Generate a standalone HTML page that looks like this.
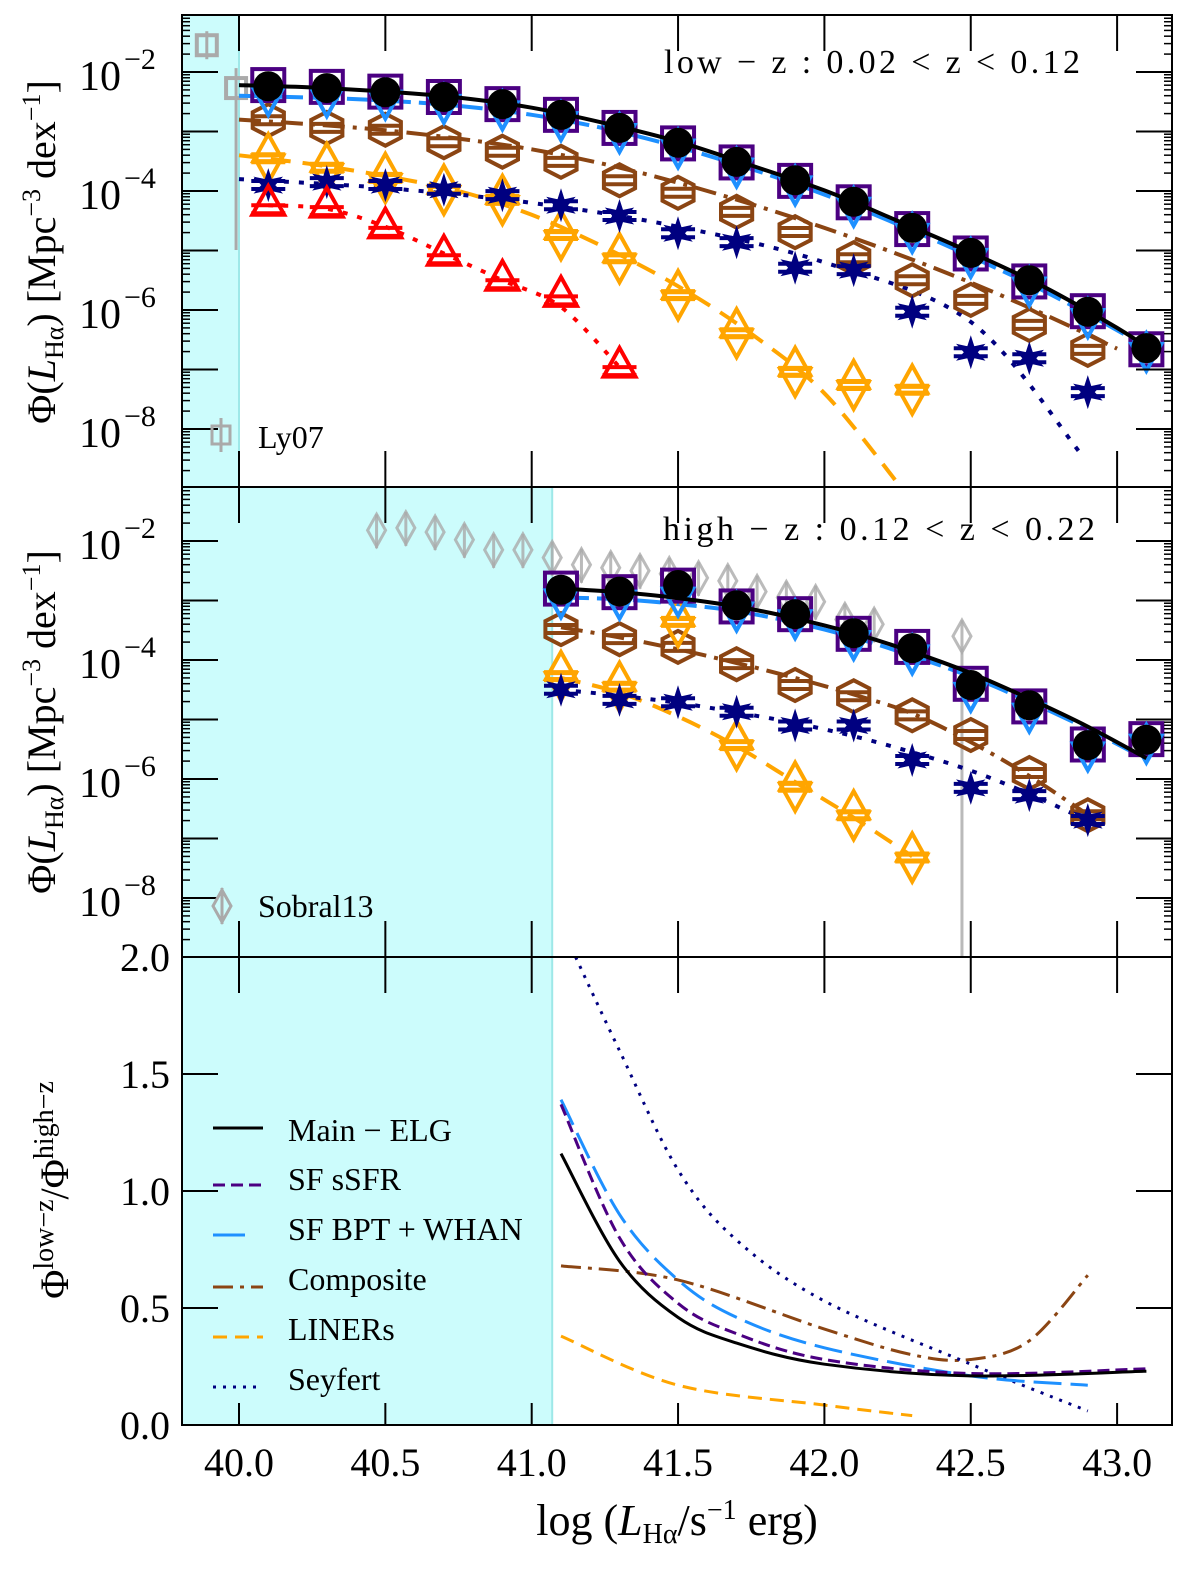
<!DOCTYPE html>
<html><head><meta charset="utf-8"><style>
html,body{margin:0;padding:0;background:#fff}
svg{display:block}
text{font-family:"Liberation Serif",serif;fill:#000}
</style></head><body>
<svg id="c" width="1200" height="1579" viewBox="0 0 1200 1579" xmlns="http://www.w3.org/2000/svg"></svg>
<script>
// ---------- data ----------
const xs1 = [40.1,40.3,40.5,40.7,40.9,41.1,41.3,41.5,41.7,41.9,42.1,42.3,42.5,42.7,42.9,43.1];
const main1 = [-2.24,-2.27,-2.34,-2.42,-2.54,-2.72,-2.94,-3.19,-3.51,-3.82,-4.18,-4.62,-5.04,-5.50,-6.03,-6.64];
const ssfr1 = [-2.22,-2.25,-2.33,-2.42,-2.54,-2.72,-2.94,-3.2,-3.52,-3.83,-4.19,-4.64,-5.05,-5.52,-6.02,-6.66];
const bpt1 = [-2.42,-2.44,-2.48,-2.55,-2.66,-2.84,-3.04,-3.3,-3.62,-3.92,-4.28,-4.72,-5.14,-5.62,-6.15,-6.72];
const comp1 = [-2.81,-2.94,-2.97,-3.18,-3.34,-3.51,-3.82,-4.03,-4.35,-4.69,-5.13,-5.50,-5.83,-6.25,-6.67];
const liner1 = [-3.45,-3.61,-3.78,-3.98,-4.15,-4.74,-5.13,-5.75,-6.39,-7.04,-7.26,-7.34];
const sey1 = [-3.90,-3.85,-3.90,-3.98,-4.07,-4.24,-4.42,-4.71,-4.86,-5.29,-5.33,-6.03,-6.71,-6.81,-7.38];
const red1 = [-4.24,-4.27,-4.62,-5.08,-5.50,-5.77,-6.96];
const ly07x = [39.89,39.99];
const ly07y = [-1.55,-2.27];
// fit curves panel 1
const fitX1 = [40.0,40.25,40.5,40.75,41.0,41.25,41.5,41.75,42.0,42.25,42.5,42.75,43.0,43.1];
const fitMain1 = [-2.22,-2.26,-2.33,-2.43,-2.6,-2.86,-3.17,-3.57,-3.99,-4.5,-5.03,-5.61,-6.3,-6.62];
const fitBpt1 = [-2.4,-2.43,-2.48,-2.57,-2.72,-2.95,-3.26,-3.63,-4.06,-4.56,-5.1,-5.68,-6.34,-6.65];
const fitComp1 = [-2.8,-2.88,-2.98,-3.12,-3.3,-3.55,-3.86,-4.22,-4.62,-5.06,-5.54,-6.07,-6.65];
const fitLinerX1 = [40.0,40.25,40.5,40.75,41.0,41.25,41.5,41.75,42.0,42.26];
const fitLiner1 = [-3.4,-3.55,-3.75,-4.0,-4.4,-4.95,-5.6,-6.4,-7.4,-8.97];
const fitSeyX1 = [40.0,40.5,41.0,41.5,42.0,42.5,42.88];
const fitSey1 = [-3.8,-3.95,-4.2,-4.6,-5.2,-6.2,-8.44];
const redX1 = [40.1,40.3,40.5,40.7,40.9,41.1,41.3];
const fitRed1 = [-4.24,-4.3,-4.6,-5.05,-5.5,-5.95,-6.96];
// panel 2
const xs2 = [41.1,41.3,41.5,41.7,41.9,42.1,42.3,42.5,42.7,42.9,43.1];
const main2 = [-2.82,-2.85,-2.74,-3.08,-3.23,-3.55,-3.80,-4.42,-4.76,-5.43,-5.34];
const ssfr2 = [-2.8,-2.86,-2.75,-3.1,-3.23,-3.56,-3.78,-4.4,-4.78,-5.42,-5.33];
const bpt2 = [-2.98,-3.0,-2.95,-3.2,-3.33,-3.68,-3.92,-4.55,-4.9,-5.55,-5.42];
const comp2 = [-3.48,-3.65,-3.78,-4.07,-4.42,-4.61,-4.93,-5.26,-5.90,-6.61];
const liner2 = [-4.27,-4.45,-3.36,-5.43,-6.13,-6.61,-7.32];
const sey2 = [-4.50,-4.67,-4.71,-4.87,-5.10,-5.10,-5.68,-6.15,-6.27,-6.69];
const sobX = [40.47,40.57,40.67,40.77,40.87,40.97,41.07,41.17,41.27,41.37,41.47,41.57,41.67,41.77,41.87,41.97,42.07,42.17,42.47];
const sobY = [-1.82,-1.78,-1.85,-1.98,-2.15,-2.15,-2.28,-2.4,-2.45,-2.5,-2.55,-2.62,-2.67,-2.85,-2.95,-3.02,-3.32,-3.4,-3.6];
const fitX2 = [41.1,41.3,41.5,41.7,41.9,42.1,42.3,42.5,42.7,42.9,43.1];
const fitMain2 = [-2.8,-2.86,-2.96,-3.1,-3.3,-3.55,-3.86,-4.22,-4.65,-5.12,-5.65];
const fitBpt2 = [-2.95,-2.98,-3.06,-3.18,-3.37,-3.62,-3.93,-4.28,-4.7,-5.16,-5.67];
const fitComp2 = [-3.45,-3.62,-3.82,-4.05,-4.3,-4.58,-4.9,-5.38,-5.95,-6.6];
const fitLinerX2 = [41.1,41.3,41.5,41.7,41.9,42.1,42.3];
const fitLiner2 = [-4.3,-4.55,-4.95,-5.45,-6.05,-6.65,-7.3];
const fitSeyX2 = [41.1,41.3,41.5,41.7,41.9,42.1,42.3,42.5,42.7,42.9];
const fitSey2 = [-4.5,-4.6,-4.72,-4.88,-5.06,-5.28,-5.55,-5.86,-6.25,-6.7];
// panel 3 ratios
const rX = [41.1,41.3,41.5,41.7,42.0,42.5,43.1];
const rMain = [1.16,0.70,0.46,0.35,0.26,0.21,0.23];
const rSsfr = [1.37,0.80,0.52,0.39,0.28,0.22,0.24];
const rBptX = [41.1,41.3,41.5,41.7,42.0,42.5,42.9];
const rBpt = [1.39,0.90,0.62,0.46,0.33,0.21,0.17];
const rCompX = [41.1,41.5,42.0,42.3,42.5,42.7,42.9];
const rComp = [0.68,0.62,0.41,0.30,0.28,0.36,0.64];
const rLinerX = [41.1,41.5,42.0,42.3];
const rLiner = [0.38,0.17,0.085,0.04];
const rSeyX = [41.15,41.3,41.5,41.7,42.0,42.5,42.9];
const rSey = [2.0,1.60,1.09,0.79,0.53,0.26,0.06];
const xTicks = ["40.0","40.5","41.0","41.5","42.0","42.5","43.0"];
const xTickVals = [40.0,40.5,41.0,41.5,42.0,42.5,43.0];
const logTicks = [-2,-4,-6,-8];
const rTicks = [0.0,0.5,1.0,1.5,2.0];

// ---------- axes ----------
const L=182,R=1172;
const px = v => 239 + (v-40)*292.7;
const py1 = v => 72 + (-2-v)*59.5;
const py2 = v => 541 + (-2-v)*59.5;
const py3 = v => 1425 - v*234;
const C = { black:'#000', purple:'#4b0082', blue:'#1e90ff', brown:'#8b4513', orange:'#ffa500', navy:'#000080', red:'#ff0000', grey:'#aaaaaa' };
const svg=document.getElementById('c');
const NS='http://www.w3.org/2000/svg';
function el(tag,attrs,parent){const e=document.createElementNS(NS,tag);for(const k in attrs)e.setAttribute(k,attrs[k]);(parent||svg).appendChild(e);return e;}
function grp(name,clip){const g=el('g',clip?{'clip-path':'url(#'+clip+')'}:{});return g;}
const defs=el('defs',{});
[['p1',15,472],['p2',487,470],['p3',957,468]].forEach(([id,y,h])=>{const cp=el('clipPath',{id:id},defs);el('rect',{x:L,y:y,width:R-L,height:h},cp);});

// shading
const shade=grp('excluded-region');
el('rect',{x:L,y:15,width:px(40.0)-L,height:472,fill:'#ccfcfc'},shade);
el('rect',{x:L,y:487,width:px(41.07)-L,height:938,fill:'#ccfcfc'},shade);
el('line',{x1:px(40.0),y1:15,x2:px(40.0),y2:487,stroke:'#9ee8e8','stroke-width':2},shade);
el('line',{x1:px(41.07),y1:487,x2:px(41.07),y2:1425,stroke:'#9ee8e8','stroke-width':2},shade);

function line(g,xa,ya,fy,col,w,dash){
  const P=xa.map((x,i)=>[px(x),fy(ya[i])]);
  let d='M'+P[0][0].toFixed(1)+','+P[0][1].toFixed(1);
  for(let i=0;i<P.length-1;i++){
    const p0=P[Math.max(0,i-1)],p1=P[i],p2=P[i+1],p3=P[Math.min(P.length-1,i+2)];
    const c1=[p1[0]+(p2[0]-p0[0])/6,p1[1]+(p2[1]-p0[1])/6];
    const c2=[p2[0]-(p3[0]-p1[0])/6,p2[1]-(p3[1]-p1[1])/6];
    d+=' C'+c1.map(v=>v.toFixed(1)).join(',')+' '+c2.map(v=>v.toFixed(1)).join(',')+' '+p2.map(v=>v.toFixed(1)).join(',');
  }
  const a={d:d,fill:'none',stroke:col,'stroke-width':w,'stroke-linejoin':'round'};
  if(dash)a['stroke-dasharray']=dash;
  return el('path',a,g);
}
function tri(g,x,y,s,up,col){const h=s*0.9;const p=up?[[x,y-h*0.67],[x-s/2,y+h*0.33],[x+s/2,y+h*0.33]]:[[x,y+h*0.67],[x-s/2,y-h*0.33],[x+s/2,y-h*0.33]];el('polygon',{points:p.map(q=>q.join(',')).join(' '),fill:'none',stroke:col,'stroke-width':4},g);}
function caps(g,x,y,col){el('line',{x1:x-17,y1:y-4,x2:x+17,y2:y-4,stroke:col,'stroke-width':4},g);el('line',{x1:x-17,y1:y+4,x2:x+17,y2:y+4,stroke:col,'stroke-width':4},g);}
function hex(g,x,y,col){const p=[];for(let i=0;i<6;i++){const a=Math.PI/2+i*Math.PI/3;p.push((x+18*Math.cos(a)).toFixed(1)+','+(y-16*Math.sin(a)).toFixed(1));}el('polygon',{points:p.join(' '),fill:'none',stroke:col,'stroke-width':4},g);caps(g,x,y,col);}
function star(g,x,y,col){const p=[];for(let i=0;i<12;i++){const r=i%2?7:17;const a=-Math.PI/2+i*Math.PI/6;p.push((x+r*Math.cos(a)).toFixed(1)+','+(y+r*Math.sin(a)).toFixed(1));}el('polygon',{points:p.join(' '),fill:col},g);caps(g,x,y,col);}

function drawPanel(n,fy,xs,d){
  const clip='p'+n;
  const g=grp('panel-'+n+'-series',clip);
  if(d.extra)d.extra(g);
  const lg=grp('fit-lines-'+n,clip);
  line(lg,d.fitX,d.fitBpt,fy,C.blue,4,'28,8');
  line(lg,d.fitX.slice(0,d.fitComp.length),d.fitComp,fy,C.brown,4,'22,8,4,8');
  line(lg,d.lX,d.lY,fy,C.orange,4,'20,12');
  line(lg,d.sX,d.sY,fy,C.navy,4,'5,10');
  if(d.rX)line(lg,d.rX,d.rY,fy,C.red,4,'5,10');
  const mg=grp('markers-'+n,clip);
  d.comp.forEach((v,i)=>hex(mg,px(xs[i]),fy(v),C.brown));
  d.liner.forEach((v,i)=>{const x=px(xs[i]),y=fy(v);tri(mg,x,y-6,30,true,C.orange);tri(mg,x,y+6,30,false,C.orange);caps(mg,x,y,C.orange);});
  d.sey.forEach((v,i)=>star(mg,px(xs[i]),fy(v),C.navy));
  if(d.red)d.red.forEach((v,i)=>{const x=px(xs[i]),y=fy(v);tri(mg,x,y,32,true,C.red);caps(mg,x,y+4,C.red);});
  d.ssfr.forEach((v,i)=>el('rect',{x:px(xs[i])-16,y:fy(v)-16,width:32,height:32,fill:'none',stroke:C.purple,'stroke-width':4},mg));
  d.bpt.forEach((v,i)=>{const x=px(xs[i]),y=fy(v);tri(mg,x,y,30,false,C.blue);tri(mg,x,y-10,16,true,C.blue);});
  line(mg,d.fitX,d.fitMain,fy,C.black,4,null);
  d.main.forEach((v,i)=>el('circle',{cx:px(xs[i]),cy:fy(v),r:15,fill:C.black},mg));
}

drawPanel(1,py1,xs1,{fitX:fitX1,fitMain:fitMain1,fitBpt:fitBpt1,fitComp:fitComp1,lX:fitLinerX1,lY:fitLiner1,sX:fitSeyX1,sY:fitSey1,rX:redX1,rY:fitRed1,
  main:main1,ssfr:ssfr1,bpt:bpt1,comp:comp1,liner:liner1,sey:sey1,red:red1,
  extra:g=>{
    ly07x.forEach((x,i)=>{const X=px(x),Y=py1(ly07y[i]);
      if(i==1)el('line',{x1:X,y1:Y-20,x2:X,y2:250,stroke:C.grey,'stroke-width':3},g);
      else el('line',{x1:X,y1:Y-14,x2:X,y2:Y+14,stroke:C.grey,'stroke-width':3},g);
      el('rect',{x:X-10,y:Y-10,width:20,height:20,fill:'none',stroke:C.grey,'stroke-width':4},g);});
  }});
drawPanel(2,py2,xs2,{fitX:fitX2,fitMain:fitMain2,fitBpt:fitBpt2,fitComp:fitComp2,lX:fitLinerX2,lY:fitLiner2,sX:fitSeyX2,sY:fitSey2,
  main:main2,ssfr:ssfr2,bpt:bpt2,comp:comp2,liner:liner2,sey:sey2,
  extra:g=>{
    sobX.forEach((x,i)=>{const X=px(x),Y=py2(sobY[i]);
      const lo=i==sobX.length-1?957:Y+18;
      el('line',{x1:X,y1:Y-16,x2:X,y2:lo,stroke:C.grey,'stroke-width':3,opacity:0.8},g);
      el('polygon',{points:`${X},${Y-16} ${X+9},${Y} ${X},${Y+16} ${X-9},${Y}`,fill:'none',stroke:C.grey,'stroke-width':3,opacity:0.8},g);});
  }});
const g3=grp('ratio-lines','p3');
line(g3,rCompX,rComp,py3,C.brown,3,'20,7,4,7');
line(g3,rLinerX,rLiner,py3,C.orange,3,'14,8');
line(g3,rSeyX,rSey,py3,C.navy,3,'3,7');
line(g3,rBptX,rBpt,py3,C.blue,3,'28,9');
line(g3,rX,rSsfr,py3,C.purple,3,'12,6');
line(g3,rX,rMain,py3,C.black,3,null);

const ax=grp('axes');
[[15,487],[487,957],[957,1425]].forEach(([t,b],k)=>{
  el('rect',{x:L,y:t,width:R-L,height:b-t,fill:'none',stroke:'#000','stroke-width':2},ax);
  xTickVals.forEach(v=>{const X=px(v);
    el('line',{x1:X,y1:t,x2:X,y2:t+36,stroke:'#000','stroke-width':2},ax);
    el('line',{x1:X,y1:b,x2:X,y2:b-(k==2?22:36),stroke:'#000','stroke-width':2},ax);});
  if(k<2){const fy=k==0?py1:py2;
    for(let e=-9;e<=-1;e++){[1,2,3,4,5,6,7,8,9].forEach(m=>{const y=fy(e+Math.log10(m));if(y<t||y>b)return;const len=m==1?36:8;
      el('line',{x1:L,y1:y,x2:L+len,y2:y,stroke:'#000','stroke-width':m==1?2:1.5},ax);
      el('line',{x1:R,y1:y,x2:R-len,y2:y,stroke:'#000','stroke-width':m==1?2:1.5},ax);});}
  } else {
    rTicks.forEach(v=>{const y=py3(v);el('line',{x1:L,y1:y,x2:L+36,y2:y,stroke:'#000','stroke-width':2},ax);el('line',{x1:R,y1:y,x2:R-36,y2:y,stroke:'#000','stroke-width':2},ax);});
  }
});
const tl=grp('tick-labels');
xTicks.forEach((s,i)=>{const t=el('text',{x:px(xTickVals[i]),y:1476,'font-size':40,'text-anchor':'middle'},tl);t.textContent=s;});
[[py1],[py2]].forEach(([fy])=>logTicks.forEach(e=>{const y=fy(e);
  const t=el('text',{x:121,y:y+18,'font-size':42,'text-anchor':'end'},tl);t.textContent='10';
  const s=el('text',{x:124,y:y-3,'font-size':30},tl);s.textContent='\u2212'+(-e);}));
rTicks.forEach(v=>{const t=el('text',{x:170,y:py3(v)+14,'font-size':40,'text-anchor':'end'},tl);t.textContent=v.toFixed(1);});
</script>
<svg width="1200" height="1579" style="position:absolute;left:0;top:0" xmlns="http://www.w3.org/2000/svg">
<text x="1080" y="73" font-size="34" text-anchor="end" textLength="416">low − z :  0.02 &lt; z &lt; 0.12</text>
<text x="1095" y="540" font-size="34" text-anchor="end" textLength="432">high − z :  0.12 &lt; z &lt; 0.22</text>
<g><line x1="221" y1="418" x2="221" y2="452" stroke="#aaa" stroke-width="3"/><rect x="212" y="426" width="18" height="18" fill="none" stroke="#aaa" stroke-width="3"/><text x="258" y="448" font-size="32">Ly07</text></g>
<g><line x1="222" y1="888" x2="222" y2="924" stroke="#aaa" stroke-width="3"/><polygon points="222,890 231,906 222,922 213,906" fill="none" stroke="#aaa" stroke-width="3"/><text x="258" y="917" font-size="32">Sobral13</text></g>
<g>
<line x1="213" y1="1128" x2="263" y2="1128" stroke="#000" stroke-width="3"/><text x="288" y="1141" font-size="32">Main − ELG</text>
<line x1="213" y1="1185" x2="263" y2="1185" stroke="#4b0082" stroke-width="3" stroke-dasharray="12,6"/><text x="288" y="1190" font-size="32">SF sSFR</text>
<line x1="213" y1="1235" x2="245" y2="1235" stroke="#1e90ff" stroke-width="3"/><text x="288" y="1240" font-size="32">SF BPT + WHAN</text>
<line x1="213" y1="1287" x2="263" y2="1287" stroke="#8b4513" stroke-width="3" stroke-dasharray="20,7,4,7"/><text x="288" y="1290" font-size="32">Composite</text>
<line x1="213" y1="1337" x2="263" y2="1337" stroke="#ffa500" stroke-width="3" stroke-dasharray="14,8"/><text x="288" y="1340" font-size="32">LINERs</text>
<line x1="213" y1="1387" x2="263" y2="1387" stroke="#000080" stroke-width="3" stroke-dasharray="3,7"/><text x="288" y="1390" font-size="32">Seyfert</text>
</g>
<text transform="translate(55,252) rotate(-90)" font-size="40" text-anchor="middle">Φ(<tspan font-style="italic">L</tspan><tspan font-size="26" dy="8">Hα</tspan><tspan dy="-8">) [Mpc</tspan><tspan font-size="26" dy="-15">−3</tspan><tspan dy="15"> dex</tspan><tspan font-size="26" dy="-15">−1</tspan><tspan dy="15">]</tspan></text>
<text transform="translate(55,722) rotate(-90)" font-size="40" text-anchor="middle">Φ(<tspan font-style="italic">L</tspan><tspan font-size="26" dy="8">Hα</tspan><tspan dy="-8">) [Mpc</tspan><tspan font-size="26" dy="-15">−3</tspan><tspan dy="15"> dex</tspan><tspan font-size="26" dy="-15">−1</tspan><tspan dy="15">]</tspan></text>
<text transform="translate(68,1190) rotate(-90)" font-size="40" text-anchor="middle">Φ<tspan font-size="28" dy="-15">low−z</tspan><tspan dy="15">/Φ</tspan><tspan font-size="28" dy="-15">high−z</tspan></text>
<text x="677" y="1535" font-size="44" text-anchor="middle">log (<tspan font-style="italic">L</tspan><tspan font-size="28" dy="8">Hα</tspan><tspan dy="-8">/s</tspan><tspan font-size="28" dy="-16">−1</tspan><tspan dy="16"> erg)</tspan></text>
</svg>
</body></html>
